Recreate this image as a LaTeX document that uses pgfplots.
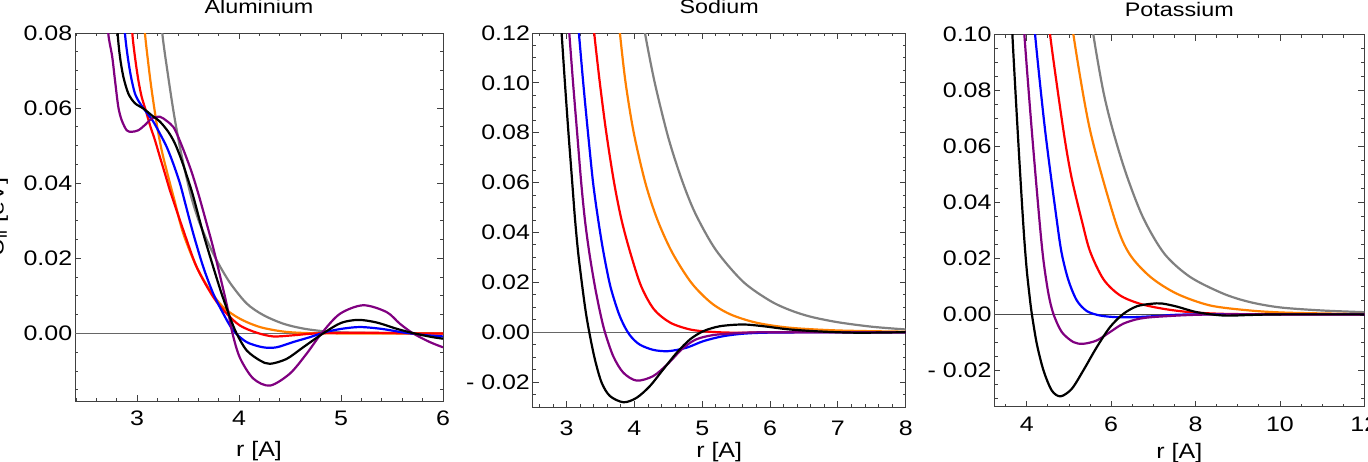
\documentclass[border=0pt]{standalone}
\usepackage{pgfplots}
\pgfplotsset{compat=1.18}
\usepackage{fontspec}
\setmainfont{Liberation Sans}[FakeStretch=1.19]

\definecolor{mgray}{rgb}{0.5,0.5,0.5}
\definecolor{morange}{rgb}{1,0.5,0}
\definecolor{mred}{rgb}{1,0,0}
\definecolor{mblue}{rgb}{0,0,1}
\definecolor{mpurple}{rgb}{0.5,0,0.5}

\tikzset{curve/.style={smooth, tension=0.5, line width=1.1pt}}
\pgfplotsset{
  panel/.style={
    scale only axis,
    anchor=south west,
    axis line style={black!75, line width=0.5pt},
    tick align=inside,
    major tick length=3pt,
    minor tick length=1.6pt,
    tick style={black!75, line width=0.45pt},
    ticklabel style={font=\fontsize{10.5}{12}\selectfont},
    yticklabel style={inner xsep=1.2pt},
    xticklabel style={yshift=-1.5pt},
    scaled ticks=false,
    every axis title shift=0pt,
    title style={font=\fontsize{9.8}{11}\selectfont, at={(0.5,1)}, anchor=base, yshift=9.6pt},
    xlabel style={font=\fontsize{10.5}{12}\selectfont, at={(0.5,0)}, anchor=base},
  },
}

\begin{document}
\begin{tikzpicture}
\useasboundingbox (0,0) rectangle (684pt,230.5pt);
\clip (0,0) rectangle (684pt,230.5pt);

% Aluminium
\begin{axis}[panel, at={(37.5pt,30pt)}, width=184pt, height=184pt,
  xmin=2.39, xmax=6, ymin=-0.018, ymax=0.08,
  xtick={3,4,5,6}, xticklabels={3,4,5,6},
  minor xtick={2.4,2.6,...,6},
  ytick={0,0.02,0.04,0.06,0.08}, yticklabels={0.00,0.02,0.04,0.06,0.08},
  minor ytick={-0.015,-0.01,...,0.08},
  title={Aluminium}, xlabel={r [A]}, xlabel style={yshift=-27.5pt},
  ylabel={U\textsubscript{ii} [eV]},
  ylabel style={font=\fontsize{10.5}{12}\selectfont, at={(axis description cs:-0.194,0.5)}, anchor=base},
]
\addplot[black!60, line width=0.6pt] coordinates {(2,0) (7,0)};
\addplot[curve, mgray] coordinates {
  (3.20,0.095) (3.246,0.080) (3.30,0.0692) (3.36,0.0585) (3.42,0.0495) (3.48,0.0420)
  (3.534,0.0360) (3.60,0.0303) (3.681,0.0250) (3.779,0.0195) (3.91,0.0135) (4.073,0.0080)
  (4.236,0.0049) (4.432,0.0026) (4.628,0.0013) (4.857,0.0005) (5.1,0.0002) (5.5,0.0001) (6.0,0.0)};
\addplot[curve, morange] coordinates {
  (3.05,0.090) (3.076,0.080) (3.109,0.0719) (3.142,0.0648) (3.191,0.0559) (3.24,0.0488)
  (3.305,0.0417) (3.37,0.0350) (3.452,0.0266) (3.583,0.0177) (3.714,0.0115) (3.844,0.0070)
  (4.008,0.0039) (4.204,0.0017) (4.432,0.0005) (4.66,0.0001) (5.0,0.0) (6.0,0.0)};
\addplot[curve, mred] coordinates {
  (2.93,0.090) (2.952,0.080) (2.978,0.0737) (3.011,0.0675) (3.044,0.0630) (3.083,0.0595)
  (3.125,0.0555) (3.174,0.0515) (3.223,0.0470) (3.272,0.0426) (3.321,0.0381) (3.37,0.0341)
  (3.45,0.0277) (3.583,0.0177) (3.746,0.0097) (3.877,0.0053) (4.008,0.0021) (4.171,0.0002)
  (4.334,-0.0008) (4.53,-0.0005) (4.76,0.0) (5.2,0.0002) (5.7,0.0) (6.0,0.0)};
\addplot[curve, mblue] coordinates {
  (2.86,0.090) (2.88,0.080) (2.907,0.0737) (2.939,0.0684) (2.978,0.0639) (3.027,0.0613)
  (3.093,0.0588) (3.158,0.0564) (3.223,0.0532) (3.289,0.0497) (3.354,0.0452) (3.42,0.0399)
  (3.468,0.0350) (3.55,0.0266) (3.648,0.0177) (3.746,0.0106) (3.844,0.0053) (3.942,0.0008)
  (4.073,-0.0023) (4.236,-0.0037) (4.367,-0.0037) (4.53,-0.0023) (4.694,-0.0010) (4.84,0.0003)
  (5.0,0.0012) (5.184,0.0017) (5.4,0.0012) (5.6,0.0003) (5.8,-0.0004) (6.0,-0.0008)};
\addplot[curve, mpurple] coordinates {
  (2.70,0.090) (2.716,0.080) (2.755,0.0737) (2.782,0.0675) (2.815,0.0603) (2.848,0.0568)
  (2.897,0.0541) (2.946,0.0537) (3.011,0.0541) (3.076,0.0555) (3.142,0.0572) (3.223,0.0577)
  (3.289,0.0566) (3.354,0.0550) (3.403,0.0523) (3.468,0.0479) (3.534,0.0430) (3.60,0.0372)
  (3.672,0.0302) (3.746,0.0228) (3.82,0.0145) (3.88,0.0075) (3.935,0.0) (4.008,-0.0065)
  (4.138,-0.0120) (4.302,-0.0139) (4.498,-0.0107) (4.662,-0.0054) (4.808,0.0) (4.988,0.0052)
  (5.216,0.0075) (5.446,0.0057) (5.576,0.0026) (5.707,0.0) (5.87,-0.0023) (6.0,-0.0037)};
\addplot[curve, black] coordinates {
  (2.79,0.090) (2.808,0.080) (2.831,0.0737) (2.864,0.0684) (2.913,0.0639) (2.978,0.0613)
  (3.060,0.0599) (3.142,0.0581) (3.223,0.0564) (3.305,0.0537) (3.370,0.0506) (3.436,0.0461)
  (3.501,0.0408) (3.55,0.0365) (3.648,0.0266) (3.746,0.0177) (3.828,0.0106) (3.91,0.0043)
  (3.975,0.0) (4.073,-0.0045) (4.204,-0.0072) (4.302,-0.0081) (4.465,-0.0068) (4.628,-0.0037)
  (4.824,0.0) (5.0,0.0028) (5.17,0.0036) (5.35,0.0029) (5.55,0.0012) (5.72,0.0) (5.9,-0.0010) (6.0,-0.0014)};
\end{axis}

% Sodium
\begin{axis}[panel, at={(266.35pt,27pt)}, width=186.5pt, height=187pt,
  xmin=2.5, xmax=8, ymin=-0.03, ymax=0.12,
  xtick={3,4,5,6,7,8}, xticklabels={3,4,5,6,7,8},
  minor xtick={2.6,2.8,...,8},
  ytick={-0.02,0,0.02,0.04,0.06,0.08,0.10,0.12},
  yticklabels={- 0.02,0.00,0.02,0.04,0.06,0.08,0.10,0.12},
  minor ytick={-0.03,-0.025,...,0.12},
  xticklabel style={yshift=-2pt},
  title={Sodium}, xlabel={r [A]}, xlabel style={yshift=-25pt},
]
\addplot[black!60, line width=0.6pt] coordinates {(2,0) (9,0)};
\addplot[curve, mgray] coordinates {
  (4.10,0.130) (4.155,0.120) (4.30,0.100) (4.50,0.078) (4.70,0.0610) (4.90,0.0475)
  (5.20,0.0330) (5.60,0.0203) (6.00,0.0126) (6.30,0.0088) (6.60,0.0062) (7.00,0.0040)
  (7.50,0.0022) (8.00,0.0011)};
\addplot[curve, morange] coordinates {
  (3.76,0.130) (3.786,0.120) (3.87,0.100) (3.99,0.080) (4.16,0.060) (4.34,0.0450)
  (4.56,0.0318) (4.84,0.0198) (5.13,0.0118) (5.42,0.0071) (5.80,0.0038) (6.29,0.0018)
  (7.0,0.0007) (8.0,0.0002)};
\addplot[curve, mred] coordinates {
  (3.38,0.130) (3.407,0.120) (3.49,0.100) (3.585,0.080) (3.70,0.060) (3.81,0.0450)
  (3.94,0.0318) (4.10,0.0184) (4.29,0.0091) (4.53,0.0038) (4.82,0.0011) (5.10,0.0002)
  (5.5,-0.0002) (6.2,0.0) (8.0,0.0)};
\addplot[curve, mblue] coordinates {
  (3.15,0.130) (3.181,0.120) (3.245,0.100) (3.315,0.080) (3.39,0.060) (3.466,0.0450)
  (3.545,0.0318) (3.645,0.0184) (3.765,0.0078) (3.86,0.0020) (3.95,-0.0018) (4.08,-0.0050)
  (4.28,-0.0071) (4.50,-0.0076) (4.77,-0.0062) (5.015,-0.0036) (5.31,-0.0016) (5.655,-0.0005)
  (6.2,-0.0001) (8.0,0.0)};
\addplot[curve, mpurple] coordinates {
  (3.01,0.130) (3.039,0.120) (3.095,0.100) (3.155,0.080) (3.215,0.060) (3.27,0.0450)
  (3.335,0.0318) (3.417,0.0184) (3.495,0.0078) (3.565,0.0) (3.687,-0.0096) (3.835,-0.0162)
  (4.032,-0.0194) (4.277,-0.0176) (4.50,-0.0125) (4.70,-0.0068) (4.90,-0.0030) (5.15,-0.0012)
  (5.5,-0.0004) (6.0,0.0) (8.0,0.0)};
\addplot[curve, black] coordinates {
  (2.90,0.130) (2.926,0.120) (2.975,0.100) (3.027,0.080) (3.083,0.060) (3.125,0.0450)
  (3.178,0.0300) (3.27,0.0104) (3.334,0.0) (3.417,-0.0109) (3.516,-0.0202) (3.639,-0.0256)
  (3.84,-0.0281) (4.032,-0.0263) (4.228,-0.0216) (4.425,-0.0149) (4.622,-0.0083) (4.819,-0.0029)
  (5.015,0.0004) (5.261,0.0024) (5.6,0.0031) (5.9,0.0024) (6.29,0.0011) (6.8,0.0002)
  (7.3,-0.0002) (8.0,0.0)};
\end{axis}

% Potassium
\begin{axis}[panel, at={(497.15pt,27.15pt)}, width=185pt, height=186pt,
  xmin=3.23, xmax=12, ymin=-0.033, ymax=0.10,
  xtick={4,6,8,10,12}, xticklabels={4,6,8,10,12},
  minor xtick={3.5,4,...,12},
  ytick={-0.02,0,0.02,0.04,0.06,0.08,0.10},
  yticklabels={- 0.02,0.00,0.02,0.04,0.06,0.08,0.10},
  minor ytick={-0.03,-0.025,...,0.1},
  title={Potassium}, xlabel={r [A]}, xlabel style={yshift=-26pt},
  title style={yshift=-0.3pt},
]
\addplot[black!70, line width=0.6pt] coordinates {(3,0) (13,0)};
\addplot[curve, mgray] coordinates {
  (5.52,0.110) (5.578,0.100) (5.81,0.080) (6.04,0.0658) (6.36,0.050) (6.76,0.0345)
  (7.26,0.0217) (7.87,0.0134) (8.66,0.0074) (9.29,0.0044) (10.0,0.0025) (11.0,0.0014) (12.0,0.0008)};
\addplot[curve, morange] coordinates {
  (5.06,0.110) (5.105,0.100) (5.5,0.0658) (6.092,0.0336) (6.43,0.0217) (6.93,0.0134)
  (7.555,0.0074) (8.344,0.0032) (9.29,0.0014) (10.2,0.0006) (12.0,0.0001)};
\addplot[curve, mred] coordinates {
  (4.52,0.110) (4.552,0.100) (4.868,0.0658) (5.06,0.0490) (5.303,0.0336) (5.50,0.0225)
  (5.82,0.0125) (6.21,0.0068) (6.684,0.0038) (7.237,0.0020) (7.87,0.0008) (8.66,0.0002)
  (10.0,0.0) (12.0,0.0)};
\addplot[curve, mblue] coordinates {
  (4.17,0.110) (4.197,0.100) (4.434,0.0658) (4.711,0.0336) (4.829,0.0217) (4.987,0.0122)
  (5.185,0.0050) (5.422,0.0012) (5.737,-0.0004) (6.133,-0.0010) (6.526,-0.0010) (7.08,-0.0006)
  (8.0,0.0) (12.0,0.0)};
\addplot[curve, mpurple] coordinates {
  (3.92,0.110) (3.943,0.100) (4.118,0.0658) (4.30,0.0336) (4.395,0.0193) (4.513,0.0074)
  (4.63,0.0002) (4.829,-0.0063) (5.105,-0.0099) (5.341,-0.0105) (5.659,-0.0093) (5.974,-0.0063)
  (6.289,-0.0033) (6.684,-0.0015) (7.237,-0.0007) (8.5,0.0) (12.0,0.0)};
\addplot[curve, black] coordinates {
  (3.64,0.110) (3.659,0.100) (3.73,0.080) (3.805,0.060) (3.88,0.041) (3.94,0.027)
  (4.0,0.0157) (4.06,0.0073) (4.118,0.0003) (4.237,-0.0105) (4.395,-0.0200) (4.592,-0.0272)
  (4.80,-0.0293) (5.066,-0.0266) (5.341,-0.0200) (5.659,-0.0117) (5.974,-0.0045) (6.289,0.0002)
  (6.607,0.0029) (6.95,0.0038) (7.2,0.0039) (7.555,0.0028) (8.03,0.0008) (8.66,-0.0004)
  (9.3,-0.0002) (10.0,0.0) (12.0,0.0)};
\end{axis}
\end{tikzpicture}
\end{document}
